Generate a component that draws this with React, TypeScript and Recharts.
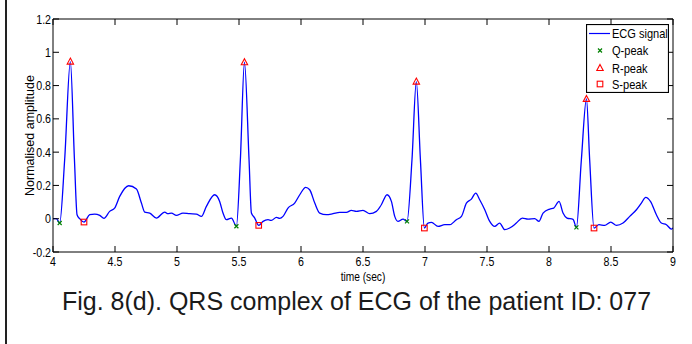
import { ComposedChart, Legend, Line, Scatter, XAxis, YAxis } from 'recharts'

// ECG trace (time in s, normalised amplitude)
const times = [
  4.0, 4.027, 4.054, 4.094, 4.14, 4.173, 4.194, 4.215, 4.25, 4.296, 4.336, 4.377, 4.411, 4.457, 4.497,
  4.538, 4.61, 4.673, 4.713, 4.74, 4.78, 4.834, 4.901, 4.927, 4.955, 4.995, 5.048, 5.102, 5.156, 5.197,
  5.237, 5.304, 5.344, 5.371, 5.398, 5.439, 5.479, 5.511, 5.544, 5.581, 5.6, 5.627, 5.659, 5.694, 5.734,
  5.761, 5.802, 5.828, 5.855, 5.895, 5.949, 5.99, 6.038, 6.07, 6.111, 6.151, 6.205, 6.258, 6.312, 6.366,
  6.406, 6.447, 6.5, 6.554, 6.608, 6.648, 6.694, 6.729, 6.756, 6.782, 6.823, 6.855, 6.895, 6.93, 6.963,
  6.995, 7.024, 7.052, 7.105, 7.159, 7.199, 7.253, 7.294, 7.334, 7.374, 7.409, 7.441, 7.482, 7.522, 7.562,
  7.602, 7.643, 7.683, 7.737, 7.785, 7.831, 7.885, 7.919, 7.952, 8.006, 8.038, 8.081, 8.113, 8.145, 8.194,
  8.221, 8.261, 8.302, 8.328, 8.363, 8.403, 8.449, 8.498, 8.544, 8.597, 8.651, 8.705, 8.745, 8.78, 8.818,
  8.866, 8.906, 8.947, 8.987, 9.0,
]
const amplitude = [
  0.0, 0.0, -0.026, 0.354, 0.944, 0.354, 0.024, 0.0, -0.02, 0.024, 0.028, 0.02, 0.002, 0.044, 0.064,
  0.134, 0.198, 0.178, 0.094, 0.04, 0.034, 0.004, 0.04, 0.03, 0.034, 0.02, 0.034, 0.03, 0.028, 0.014,
  0.074, 0.144, 0.104, 0.034, -0.006, 0.004, -0.045, 0.354, 0.94, 0.354, 0.034, 0.004, -0.04, -0.016, -0.006,
  -0.01, 0.008, 0.002, 0.014, 0.064, 0.094, 0.144, 0.188, 0.174, 0.094, 0.034, 0.024, 0.03, 0.038, 0.038,
  0.05, 0.044, 0.05, 0.03, 0.044, 0.084, 0.144, 0.104, 0.014, -0.016, -0.002, -0.016, 0.354, 0.824, 0.354,
  -0.056, -0.026, -0.022, -0.046, -0.036, -0.036, -0.006, 0.014, 0.094, 0.118, 0.154, 0.114, 0.054, -0.016, -0.046,
  -0.026, -0.066, -0.056, -0.026, 0.004, -0.002, 0.0, -0.016, 0.034, 0.058, 0.064, 0.104, 0.034, 0.004, -0.004,
  -0.052, 0.354, 0.72, 0.354, -0.056, -0.036, -0.04, -0.02, -0.04, -0.026, 0.014, 0.054, 0.094, 0.128, 0.104,
  0.024, -0.026, -0.036, -0.062, -0.055,
]

const qTimes = [4.054, 5.479, 6.855, 8.221]
const qValues = [-0.026, -0.045, -0.016, -0.052]
const rTimes = [4.14, 5.544, 6.93, 8.302]
const rValues = [0.944, 0.94, 0.824, 0.72]
const sTimes = [4.25, 5.659, 6.995, 8.363]
const sValues = [-0.02, -0.04, -0.056, -0.056]

const xTicks = [4, 4.5, 5, 5.5, 6, 6.5, 7, 7.5, 8, 8.5, 9]
const yTicks = [-0.2, 0, 0.2, 0.4, 0.6, 0.8, 1, 1.2]
const legendItems = ['ECG signal', 'Q-peak', 'R-peak', 'S-peak']

const ecg = times.map((t, i) => ({ t, v: amplitude[i] }))
const qPeaks = qTimes.map((t, i) => ({ t, v: qValues[i] }))
const rPeaks = rTimes.map((t, i) => ({ t, v: rValues[i] }))
const sPeaks = sTimes.map((t, i) => ({ t, v: sValues[i] }))

const FONT = '"Liberation Sans", Arial, Helvetica, sans-serif'
const TICK = 6

function BottomTick({ x, y, payload }: any) {
  return (
    <g>
      <line x1={x} y1={y} x2={x} y2={y - TICK} stroke="#000" />
      <text
        transform={`translate(${x},${y + 14}) scale(0.85,1)`}
        textAnchor="middle"
        fontSize={12.5}
        fontFamily={FONT}
        fill="#000"
      >
        {payload.value}
      </text>
    </g>
  )
}

function TopTick({ x, y }: any) {
  return <line x1={x} y1={y} x2={x} y2={y + TICK} stroke="#000" />
}

function LeftTick({ x, y, payload }: any) {
  return (
    <g>
      <line x1={x} y1={y} x2={x + TICK} y2={y} stroke="#000" />
      <text
        transform={`translate(${x - 2},${y + 4.5}) scale(0.85,1)`}
        textAnchor="end"
        fontSize={12.5}
        fontFamily={FONT}
        fill="#000"
      >
        {payload.value}
      </text>
    </g>
  )
}

function RightTick({ x, y }: any) {
  return <line x1={x} y1={y} x2={x - TICK} y2={y} stroke="#000" />
}

const qShape = ({ cx, cy }: any) => (
  <path d={`M${cx - 2},${cy - 2}L${cx + 2},${cy + 2}M${cx - 2},${cy + 2}L${cx + 2},${cy - 2}`} stroke="#008000" strokeWidth={1.2} />
)
const rShape = ({ cx, cy }: any) => (
  <path d={`M${cx},${cy - 3.5}L${cx + 3.2},${cy + 2.5}L${cx - 3.2},${cy + 2.5}Z`} fill="none" stroke="#ff0000" strokeWidth={1.1} />
)
const sShape = ({ cx, cy }: any) => (
  <rect x={cx - 2.8} y={cy - 2.8} width={5.6} height={5.6} fill="none" stroke="#ff0000" strokeWidth={1.1} />
)

function LegendBox() {
  const rowY = [9.5, 26.5, 44, 60]
  return (
    <svg width={83} height={69} style={{ display: 'block' }}>
      <rect x={0.5} y={0.5} width={82} height={68} fill="#fff" stroke="#000" strokeWidth={1.2} />
      <line x1={3} y1={rowY[0]} x2={24} y2={rowY[0]} stroke="#0000ff" strokeWidth={1.2} />
      {qShape({ cx: 14, cy: rowY[1] })}
      {rShape({ cx: 14, cy: rowY[2] })}
      {sShape({ cx: 14, cy: rowY[3] })}
      {legendItems.map((name, i) => (
        <text
          key={name}
          transform={`translate(26,${rowY[i] + 4.6}) scale(0.85,1)`}
          fontSize={13}
          fontFamily={FONT}
          fill="#000"
        >
          {name}
        </text>
      ))}
    </svg>
  )
}

function TimeLabel({ viewBox }: any) {
  return (
    <text
      transform={`translate(${viewBox.x + viewBox.width / 2},280.5) scale(0.85,1)`}
      textAnchor="middle"
      fontSize={12}
      fontFamily={FONT}
      fill="#000"
    >
      time (sec)
    </text>
  )
}

function AmpLabel({ viewBox }: any) {
  const cy = viewBox.y + viewBox.height / 2
  return (
    <text
      transform={`translate(34,${cy}) rotate(-90)`}
      textAnchor="middle"
      fontSize={12.5}
      fontFamily={FONT}
      fill="#000"
    >
      Normalised amplitude
    </text>
  )
}

export default function App() {
  return (
    <div style={{ position: 'absolute', left: 0, top: 0, width: 692, height: 344, background: '#fff', fontFamily: FONT }}>
      <div style={{ position: 'absolute', left: 5, top: 0, width: 2, height: 344, background: '#222' }} />
      <ComposedChart width={692} height={344} margin={{ top: 18, right: 18, bottom: 91, left: 52 }}>
        <XAxis
          xAxisId={0}
          dataKey="t"
          type="number"
          domain={[4, 9]}
          ticks={xTicks}
          allowDataOverflow
          height={1}
          tickSize={0}
          tickMargin={0}
          tickLine={false}
          axisLine={{ stroke: '#000' }}
          tick={<BottomTick />}
          interval={0}
          label={<TimeLabel />}
        />
        <XAxis
          xAxisId="top"
          orientation="top"
          dataKey="t"
          type="number"
          domain={[4, 9]}
          ticks={xTicks}
          allowDataOverflow
          height={1}
          tickSize={0}
          tickMargin={0}
          tickLine={false}
          axisLine={{ stroke: '#000' }}
          tick={<TopTick />}
          interval={0}
        />
        <YAxis
          yAxisId={0}
          type="number"
          domain={[-0.2, 1.2]}
          ticks={yTicks}
          allowDataOverflow
          width={1}
          tickSize={0}
          tickMargin={0}
          tickLine={false}
          axisLine={{ stroke: '#000' }}
          tick={<LeftTick />}
          interval={0}
          label={<AmpLabel />}
        />
        <YAxis
          yAxisId="right"
          orientation="right"
          type="number"
          domain={[-0.2, 1.2]}
          ticks={yTicks}
          allowDataOverflow
          width={1}
          tickSize={0}
          tickMargin={0}
          tickLine={false}
          axisLine={{ stroke: '#000' }}
          tick={<RightTick />}
          interval={0}
        />
        <Line
          data={ecg}
          dataKey="v"
          name="ECG signal"
          type="monotone"
          stroke="#0000ff"
          strokeWidth={1.3}
          dot={false}
          activeDot={false}
          isAnimationActive={false}
        />
        <Scatter data={qPeaks} dataKey="v" name="Q-peak" shape={qShape} isAnimationActive={false} />
        <Scatter data={rPeaks} dataKey="v" name="R-peak" shape={rShape} isAnimationActive={false} />
        <Scatter data={sPeaks} dataKey="v" name="S-peak" shape={sShape} isAnimationActive={false} />
        <Legend
          layout="horizontal"
          verticalAlign="middle"
          align="center"
          content={<LegendBox />}
          wrapperStyle={{ left: 586, top: 24, width: 83, height: 69 }}
        />
      </ComposedChart>
      <div
        style={{
          position: 'absolute',
          left: 0,
          top: 289,
          width: 692,
          paddingLeft: 21,
          boxSizing: 'border-box',
          textAlign: 'center',
          fontSize: 25,
          lineHeight: '25px',
          color: '#1a1a1a',
          whiteSpace: 'nowrap',
        }}
      >
        Fig. 8(d). QRS complex of ECG of the patient ID: 077
      </div>
    </div>
  )
}
